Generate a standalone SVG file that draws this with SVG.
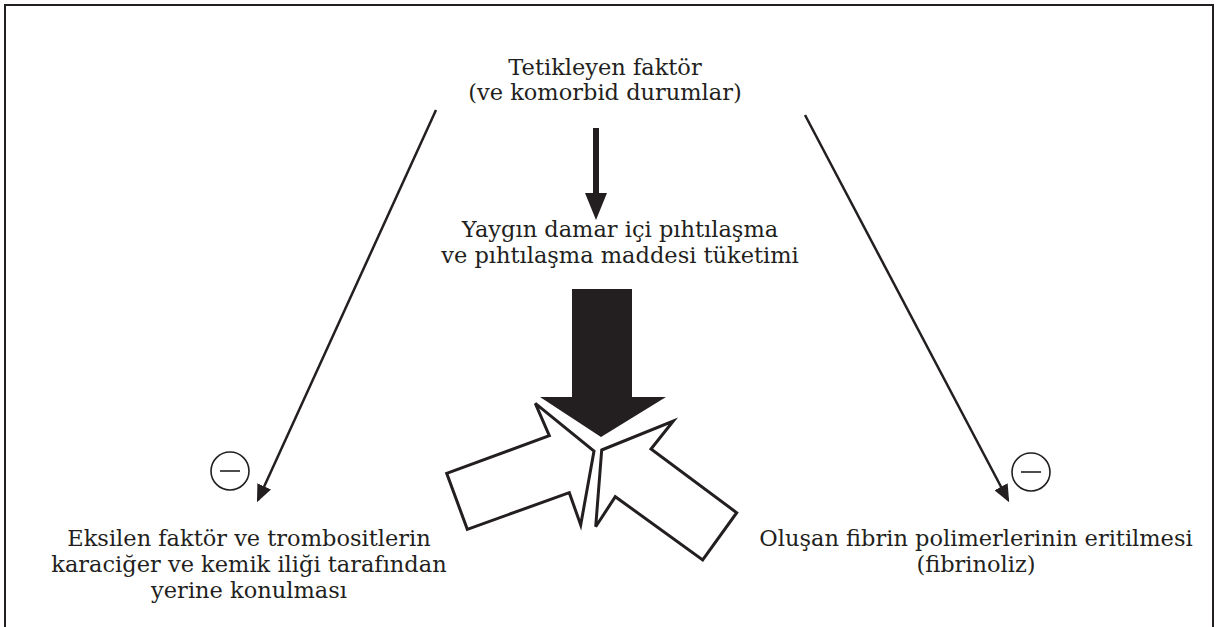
<svg xmlns="http://www.w3.org/2000/svg" width="1216" height="627" viewBox="0 0 1216 627">
  <style>
    .t { font-family: "DejaVu Serif", "Liberation Serif", serif; font-size: 22.5px; fill: #231f20; text-anchor: middle; }
    .thin { stroke: #231f20; stroke-width: 2.5; fill: none; }
    .white { fill: #ffffff; stroke: #231f20; stroke-width: 3; stroke-linejoin: miter; }
    .circ { fill: #ffffff; stroke: #231f20; stroke-width: 1.6; }
  </style>
  <defs>
    <marker id="ah" markerWidth="7" markerHeight="6" refX="6" refY="3" orient="auto" markerUnits="strokeWidth">
      <path d="M0,0 L7,3 L0,6 Z" fill="#231f20"/>
    </marker>
  </defs>
  <rect x="0" y="0" width="1216" height="627" fill="#ffffff"/>
  <rect x="5" y="5" width="1208" height="640" fill="none" stroke="#231f20" stroke-width="2"/>

  <g id="node-trigger">
    <text class="t" x="605" y="75">Tetikleyen faktör</text>
    <text class="t" x="605" y="100">(ve komorbid durumlar)</text>
  </g>
  <g id="node-dic">
    <text class="t" x="620" y="237">Yaygın damar içi pıhtılaşma</text>
    <text class="t" x="620" y="263">ve pıhtılaşma maddesi tüketimi</text>
  </g>
  <g id="node-replace">
    <text class="t" x="249" y="546">Eksilen faktör ve trombositlerin</text>
    <text class="t" x="249" y="572">karaciğer ve kemik iliği tarafından</text>
    <text class="t" x="249" y="598">yerine konulması</text>
    <circle class="circ" cx="230" cy="471" r="19"/>
    <line x1="220" y1="471" x2="240" y2="471" stroke="#231f20" stroke-width="1.6"/>
  </g>
  <g id="node-fibrinolysis">
    <text class="t" x="976" y="546">Oluşan fibrin polimerlerinin eritilmesi</text>
    <text class="t" x="976" y="572">(fibrinoliz)</text>
    <circle class="circ" cx="1031" cy="472" r="19"/>
    <line x1="1021" y1="472" x2="1041" y2="472" stroke="#231f20" stroke-width="1.6"/>
  </g>

  <g id="connectors">
    <path d="M593,128 L599,128 L599,193 L607,193 L596,220 L585,193 L593,193 Z" fill="#231f20"/>
    <line class="thin" x1="436" y1="110" x2="258" y2="500" marker-end="url(#ah)"/>
    <line class="thin" x1="805" y1="115" x2="1008" y2="500" marker-end="url(#ah)"/>
    <path d="M572,289 L632,289 L632,397 L666,397 L601,437 L540,397 L572,397 Z" fill="#231f20"/>
    <path class="white" d="M446.7,473.3 L549.3,435.7 L535.3,403.3 L594,451 L580.7,525 L569.3,492.7 L467.3,529.3 Z"/>
    <path class="white" d="M601.7,450 L673.3,421 L651,449 L736.7,512.7 L702.7,560 L615.3,496.7 L595.7,526.7 Z"/>
  </g>
</svg>
